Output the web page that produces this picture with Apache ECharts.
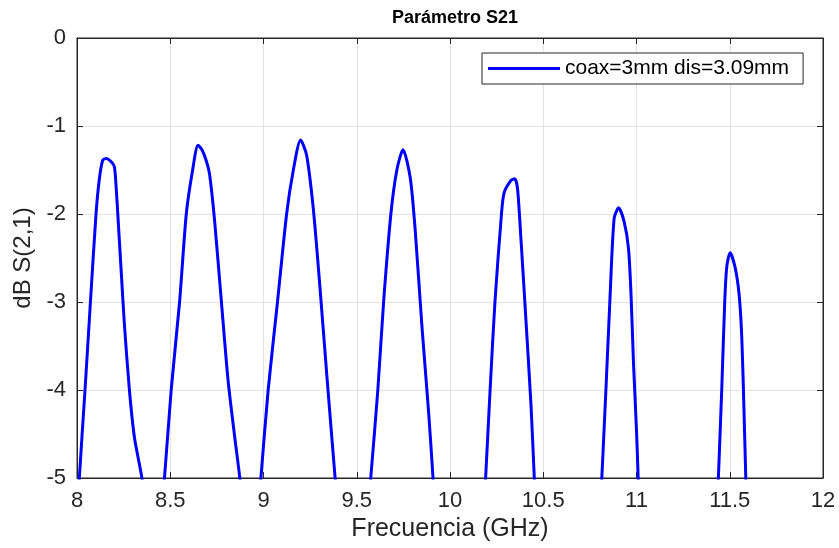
<!DOCTYPE html>
<html>
<head>
<meta charset="utf-8">
<script src="https://cdn.jsdelivr.net/npm/echarts@6/dist/echarts.min.js"></script>
<style>html,body{margin:0;padding:0;background:#fff;}#c{width:839px;height:548px;}</style>
</head>
<body>
<div id="c"></div>
<script>
var chartTitle = 'Parámetro S21';
var seriesName = 'coax=3mm dis=3.09mm';
var xTicks = [8, 8.5, 9, 9.5, 10, 10.5, 11, 11.5, 12];
var yTicks = [0, -1, -2, -3, -4, -5];

var freqGHz = [
  8.005, 8.0125, 8.043, 8.072, 8.102, 8.12, 8.138, 8.156, 8.18, 8.2, 8.21, 8.219, 8.237, 8.254, 8.281, 8.308, 8.348, 8.37,
  8.41,
  8.45, 8.469, 8.505, 8.55, 8.586, 8.62, 8.649, 8.67, 8.694, 8.711, 8.738, 8.774, 8.81, 8.846, 8.873, 8.89,
  8.93,
  8.97, 8.986, 9.025, 9.075, 9.124, 9.16, 9.199, 9.231, 9.267, 9.303, 9.339, 9.384, 9.40,
  9.48,
  9.56, 9.575, 9.613, 9.644, 9.683, 9.715, 9.748, 9.787, 9.814, 9.85, 9.886, 9.909, 9.92,
  10.05,
  10.18, 10.191, 10.215, 10.241, 10.276, 10.29, 10.326, 10.347, 10.362, 10.38, 10.407, 10.434, 10.452, 10.46,
  10.63,
  10.805, 10.814, 10.836, 10.857, 10.88, 10.904, 10.934, 10.957, 10.97, 10.984, 11.0, 11.009, 11.015,
  11.22,
  11.432, 11.439, 11.457, 11.473, 11.484, 11.502, 11.529, 11.55, 11.563, 11.573, 11.586, 11.592,
  11.8, 12.0
];
var s21dB = [
  -5.4, -5, -4, -3, -2, -1.6, -1.39, -1.37, -1.40, -1.46, -1.7, -2.01, -2.65, -3.25, -4.0, -4.54, -5, -5.4,
  -6.5,
  -5.4, -5, -4, -3, -2, -1.5, -1.22, -1.27, -1.40, -1.55, -2.08, -2.99, -3.89, -4.54, -5, -5.4,
  -6.5,
  -5.4, -5, -4, -3, -2, -1.5, -1.16, -1.33, -1.94, -2.84, -3.82, -5, -5.4,
  -6.5,
  -5.4, -5, -4, -3, -2, -1.5, -1.27, -1.59, -2.2, -3.29, -4.27, -5, -5.4,
  -6.5,
  -5.4, -5, -4, -3, -2, -1.76, -1.62, -1.6, -1.71, -2.27, -3.2, -4.16, -5, -5.4,
  -6.5,
  -5.4, -5, -4, -3, -2.05, -1.93, -2.09, -2.39, -2.88, -3.70, -4.46, -5, -5.4,
  -6.5,
  -5.4, -5, -4, -3, -2.6, -2.44, -2.61, -2.91, -3.33, -3.97, -5, -5.4,
  -6.5, -6.5
];

var pts = freqGHz.map(function (f, i) { return [f, s21dB[i]]; });
var font = "'Liberation Sans', Arial, Helvetica, sans-serif";
var axisCol = '#262626';

var chart = echarts.init(document.getElementById('c'), null, {renderer: 'canvas'});
var gridLine = {show: true, lineStyle: {color: '#e3e3e3', width: 1}};
chart.setOption({
  animation: false,
  backgroundColor: '#ffffff',
  title: {
    text: chartTitle, left: 450, top: 4, textAlign: 'center',
    textStyle: {fontFamily: font, fontSize: 18, fontWeight: 'bold', color: '#000'}
  },
  grid: {left: 77, right: 16, top: 38, bottom: 70, show: true, borderColor: axisCol, borderWidth: 1, backgroundColor: '#fff'},
  legend: {
    left: 482, top: 53, orient: 'horizontal',
    data: [{name: seriesName, icon: 'rect'}],
    itemWidth: 72, itemHeight: 3,
    backgroundColor: '#fff', borderColor: axisCol, borderWidth: 1,
    padding: [5, 14, 5, 6],
    textStyle: {fontFamily: font, fontSize: 21, color: '#000'}
  },
  xAxis: [{
    type: 'value', min: xTicks[0], max: xTicks[xTicks.length - 1], interval: 0.5,
    name: 'Frecuencia (GHz)', nameLocation: 'middle', nameGap: 37,
    nameTextStyle: {fontFamily: font, fontSize: 25, color: axisCol},
    axisLine: {show: true, onZero: false, lineStyle: {color: axisCol}},
    axisTick: {show: true, inside: true, length: 6, lineStyle: {color: axisCol}},
    axisLabel: {fontFamily: font, fontSize: 22, color: axisCol, margin: 12},
    splitLine: gridLine
  }, {
    type: 'value', position: 'top', min: xTicks[0], max: xTicks[xTicks.length - 1], interval: 0.5,
    axisLine: {show: true, onZero: false, lineStyle: {color: axisCol}},
    axisTick: {show: true, inside: true, length: 6, lineStyle: {color: axisCol}},
    axisLabel: {show: false}, splitLine: {show: false}
  }],
  yAxis: [{
    type: 'value', min: yTicks[yTicks.length - 1], max: yTicks[0], interval: 1,
    name: 'dB S(2,1)', nameLocation: 'middle', nameGap: 32,
    nameTextStyle: {fontFamily: font, fontSize: 24, color: axisCol},
    axisLine: {show: true, onZero: false, lineStyle: {color: axisCol}},
    axisTick: {show: true, inside: true, length: 6, lineStyle: {color: axisCol}},
    axisLabel: {fontFamily: font, fontSize: 22, color: axisCol, margin: 11},
    splitLine: gridLine
  }, {
    type: 'value', position: 'right', min: yTicks[yTicks.length - 1], max: yTicks[0], interval: 1,
    axisLine: {show: true, onZero: false, lineStyle: {color: axisCol}},
    axisTick: {show: true, inside: true, length: 6, lineStyle: {color: axisCol}},
    axisLabel: {show: false}, splitLine: {show: false}
  }],
  series: [{
    name: seriesName, type: 'line', data: pts, clip: true,
    showSymbol: false, symbol: 'none', smooth: 0.25,
    itemStyle: {color: '#0000ff'},
    lineStyle: {color: '#0000ff', width: 3}
  }]
});
</script>
</body>
</html>
